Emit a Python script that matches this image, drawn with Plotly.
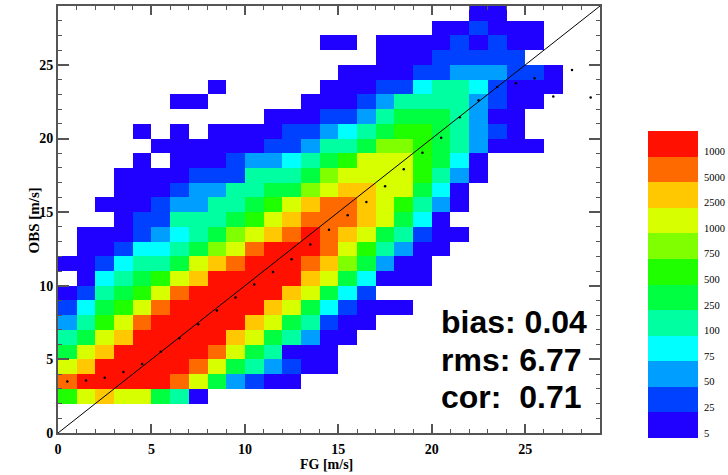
import plotly.graph_objects as go

W, H = 728, 475
A, B, C = 10, 11, 12
# colour-class index of each 1 m/s bin; row index = OBS bin, column index = FG bin; 0 = empty
counts_by_row = [
    [],
    [],
    [7, 9, A, 9, 9, 6, 5, 1],
    [B, C, C, C, C, C, B, 9, 6, 3, 2, 1, 1],
    [9, A, C, C, C, C, C, B, 9, 6, 5, 3, 2, 1, 1],
    [6, 9, A, C, C, C, C, C, B, 9, 6, 5, 1, 1, 1],
    [5, 6, 9, A, C, C, C, C, C, A, 9, 6, 5, 3, 1, 1],
    [3, 5, 7, 9, B, C, C, C, C, C, A, 9, 6, 5, 2, 1, 1],
    [2, 4, 6, 7, 9, B, C, C, C, C, C, A, 9, 6, 4, 2, 1, 1, 1],
    [1, 2, 5, 6, 7, 9, B, C, C, C, C, C, A, 9, 6, 4, 2],
    [0, 1, 4, 5, 6, 7, 9, A, C, C, C, C, C, A, 9, 6, 4, 1, 1, 1],
    [1, 1, 2, 4, 5, 5, 6, 9, A, B, C, C, C, B, A, 8, 6, 3, 1, 1],
    [0, 1, 1, 2, 4, 4, 5, 6, 8, 9, B, C, C, C, B, 9, 7, 5, 3, 1, 1],
    [0, 1, 1, 1, 2, 3, 4, 5, 6, 8, 9, A, B, C, B, A, 9, 6, 5, 2, 1, 1],
    [0, 0, 0, 1, 2, 2, 5, 5, 5, 6, 7, 9, A, B, B, B, A, 9, 6, 4, 1],
    [0, 0, 1, 1, 1, 2, 3, 3, 5, 5, 6, 7, 9, A, B, B, A, 9, 7, 5, 3, 1],
    [0, 0, 0, 1, 1, 1, 2, 3, 3, 5, 5, 6, 6, 8, 9, A, A, 9, 9, 6, 4, 1],
    [0, 0, 0, 1, 1, 1, 1, 2, 2, 2, 5, 5, 5, 6, 8, 9, 9, 9, 9, 7, 5, 3, 1],
    [0, 0, 0, 0, 1, 0, 1, 1, 1, 2, 3, 3, 4, 5, 6, 7, 9, 9, 9, 7, 6, 4, 1],
    [0, 0, 0, 0, 0, 1, 1, 1, 1, 1, 1, 2, 2, 3, 5, 5, 6, 8, 8, 7, 6, 5, 3, 1, 1, 1],
    [0, 0, 0, 0, 1, 0, 1, 0, 1, 1, 1, 1, 2, 2, 3, 4, 5, 6, 7, 7, 6, 5, 3, 2, 1],
    [0, 0, 0, 0, 0, 0, 0, 0, 0, 0, 0, 1, 1, 1, 2, 2, 3, 5, 6, 6, 6, 5, 3, 1, 1],
    [0, 0, 0, 0, 0, 0, 1, 1, 0, 0, 0, 0, 0, 1, 1, 1, 2, 3, 5, 5, 5, 5, 3, 2, 1, 1],
    [0, 0, 0, 0, 0, 0, 0, 0, 1, 0, 0, 0, 0, 0, 1, 1, 1, 2, 2, 4, 5, 5, 4, 2, 1, 1, 1],
    [0, 0, 0, 0, 0, 0, 0, 0, 0, 0, 0, 0, 0, 0, 0, 1, 1, 1, 1, 2, 2, 3, 3, 3, 2, 2, 1],
    [0, 0, 0, 0, 0, 0, 0, 0, 0, 0, 0, 0, 0, 0, 0, 0, 0, 1, 1, 1, 2, 2, 2, 2, 2],
    [0, 0, 0, 0, 0, 0, 0, 0, 0, 0, 0, 0, 0, 0, 1, 1, 0, 1, 1, 1, 1, 2, 1, 2, 1, 1],
    [0, 0, 0, 0, 0, 0, 0, 0, 0, 0, 0, 0, 0, 0, 0, 0, 0, 0, 0, 0, 1, 1, 2, 1, 1, 1],
    [0, 0, 0, 0, 0, 0, 0, 0, 0, 0, 0, 0, 0, 0, 0, 0, 0, 0, 0, 0, 0, 0, 1, 1],
]
bin_centers = [i + 0.5 for i in range(29)]
mean_obs = [3.49, 3.56, 3.76, 4.15, 4.69, 5.51, 6.44, 7.39, 8.32, 9.2, 10.08, 10.93, 11.8, 12.8,
            13.81, 14.79, 15.69, 16.76, 17.91, 19.04, 20.06, 21.44, 22.6, 23.5, 23.76, 24.1, 22.85, 24.66, 22.78]
diagonal = [0, 29]
class_colors = ["#2000ff", "#0040ff", "#009fff", "#00ffff", "#00ffa0", "#00ff40",
                "#20ff00", "#80ff00", "#d8ff00", "#ffc800", "#ff6a00", "#ff1000"]
class_labels = ["5", "25", "50", "75", "100", "250", "500", "750", "1000", "2500", "5000", "1000"]
stats = ["bias: 0.04", "rms: 6.77", "cor:  0.71"]
stat_y_px = [322, 360, 397]

z = []
for row in counts_by_row:
    full = row + [0] * (29 - len(row))
    z.append([v if v else None for v in full])

n = len(class_colors)
scale = []
for i, c in enumerate(class_colors):
    scale += [[i / n, c], [(i + 1) / n, c]]

SERIF = "Liberation Serif"
AX = "#555555"


def px_x(a, b):
    return [a / W, b / W]


def px_y(top, bottom):
    return [1 - bottom / H, 1 - top / H]


fig = go.Figure()
fig.add_trace(go.Heatmap(x=bin_centers, y=bin_centers, z=z, coloraxis="coloraxis", hoverongaps=False))
fig.add_trace(go.Scatter(x=diagonal, y=diagonal, mode="lines", line=dict(color="black", width=1), showlegend=False))
fig.add_trace(go.Scatter(x=bin_centers, y=mean_obs, mode="markers",
                         marker=dict(color="black", size=2.5, symbol="circle"), showlegend=False))
levels = list(range(1, n + 1))
fig.add_trace(go.Heatmap(x=[0], y=levels, z=[[v] for v in levels], coloraxis="coloraxis", xaxis="x2", yaxis="y2"))

axis_common = dict(
    range=[0, 29], showgrid=False, zeroline=False, showline=True, linecolor=AX, linewidth=2,
    mirror="ticks", tickmode="array", tickvals=[0, 5, 10, 15, 20, 25], ticks="inside", tickcolor=AX,
    tickwidth=1.5, tickfont=dict(family=SERIF, size=14, color="black", weight="bold"),
    minor=dict(ticks="inside", tickvals=[i for i in range(30) if i % 5], ticklen=4, tickcolor=AX, tickwidth=1.2),
)
fig.update_layout(
    width=W, height=H, autosize=False, margin=dict(l=0, r=0, t=0, b=0, pad=0, autoexpand=False),
    paper_bgcolor="white", plot_bgcolor="white", showlegend=False,
    coloraxis=dict(colorscale=scale, cmin=0.5, cmax=n + 0.5, showscale=False),
    xaxis=dict(domain=px_x(58, 600), ticklen=9, ticklabelstandoff=2, **axis_common),
    yaxis=dict(domain=px_y(6, 433), ticklen=11, **axis_common),
    xaxis2=dict(domain=px_x(648, 698), visible=False, range=[-0.5, 0.5], anchor="y2"),
    yaxis2=dict(domain=px_y(131, 438), range=[0.5, n + 0.5], anchor="x2", side="right", showgrid=False,
                zeroline=False, showline=False, ticks="outside", ticklen=3, tickcolor="rgba(0,0,0,0)",
                tickmode="array", tickvals=[v - 0.3 for v in levels], ticktext=class_labels,
                tickfont=dict(family=SERIF, size=10.5, color="black")),
)
annotations = [
    dict(text="FG [m/s]", xref="paper", yref="paper", x=326 / W, y=1 - 464 / H, yanchor="middle", showarrow=False,
         font=dict(family=SERIF, size=14, color="black", weight="bold")),
    dict(text="OBS [m/s]", xref="paper", yref="paper", x=24 / W, y=1 - 220.5 / H, yanchor="middle", textangle=-90,
         showarrow=False, font=dict(family=SERIF, size=15, color="black", weight="bold")),
]
for s, yp in zip(stats, stat_y_px):
    annotations.append(dict(text=s, xref="paper", yref="paper", x=439 / W, y=1 - yp / H, xanchor="left",
                            yanchor="middle", showarrow=False,
                            font=dict(family="Liberation Sans", size=32, color="black", weight="bold")))
fig.update_layout(annotations=annotations)
fig.write_html("out.html", config=dict(displayModeBar=False), post_script="document.body.style.margin='0';")
